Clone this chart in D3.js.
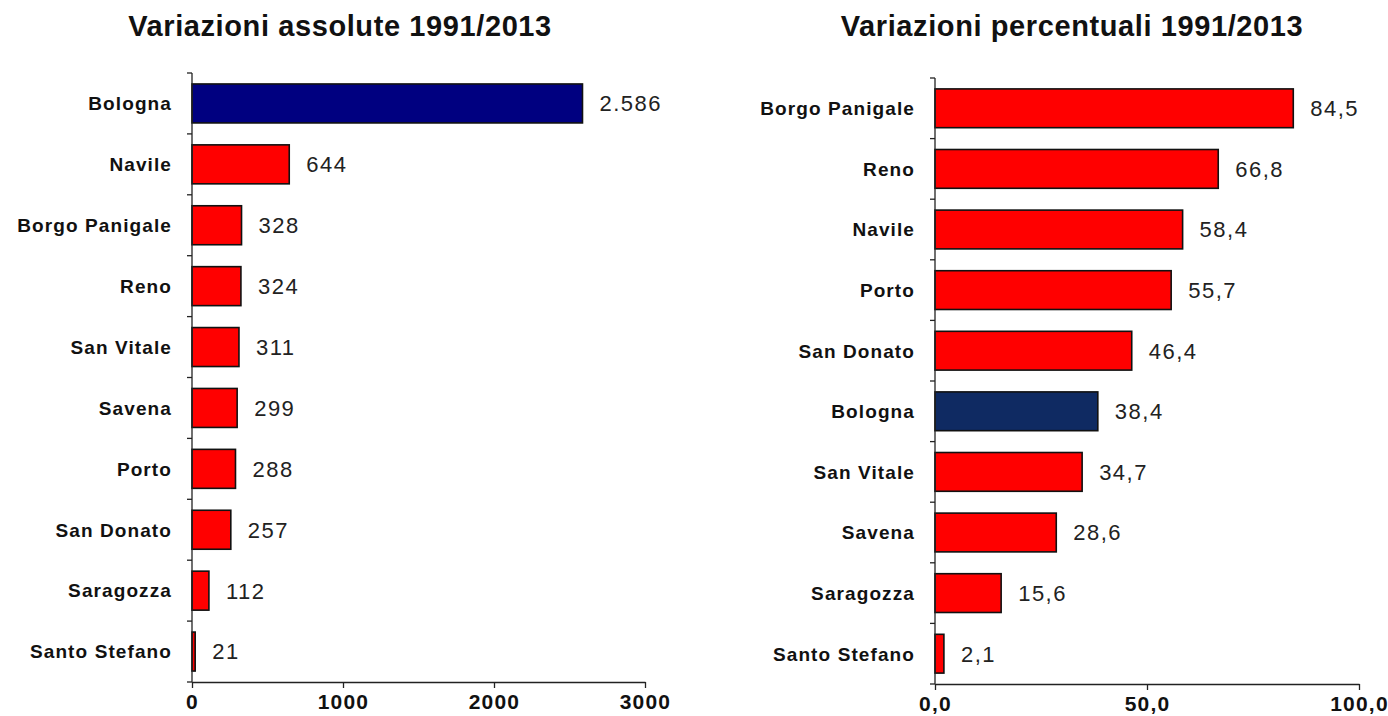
<!DOCTYPE html>
<html>
<head>
<meta charset="utf-8">
<script src="https://cdn.jsdelivr.net/npm/d3@7"></script>
<style>
  body { margin: 0; background: #fff; }
  svg { font-family: "Liberation Sans", Arial, sans-serif; }
  .title { font-size: 29px; font-weight: bold; fill: #111; letter-spacing: 0.6px; }
  .cat text { font-size: 19px; font-weight: bold; fill: #111; letter-spacing: 1.1px; }
  .xaxis text { font-size: 21px; font-weight: bold; fill: #111; letter-spacing: 1.2px; }
  .val { font-size: 22px; fill: #222; letter-spacing: 1.5px; }
  .domain, .tick line { stroke: #222; stroke-width: 1.3; }
  .bar { stroke: #111; stroke-width: 1.6; }
</style>
</head>
<body>
<script>
// Variazioni assolute 1991/2013
const absCategories = ["Bologna", "Navile", "Borgo Panigale", "Reno", "San Vitale",
                       "Savena", "Porto", "San Donato", "Saragozza", "Santo Stefano"];
const absValues = [2586, 644, 328, 324, 311, 299, 288, 257, 112, 21];
const absTicks = [0, 1000, 2000, 3000];

// Variazioni percentuali 1991/2013
const pctCategories = ["Borgo Panigale", "Reno", "Navile", "Porto", "San Donato",
                       "Bologna", "San Vitale", "Savena", "Saragozza", "Santo Stefano"];
const pctValues = [84.5, 66.8, 58.4, 55.7, 46.4, 38.4, 34.7, 28.6, 15.6, 2.1];
const pctTicks = [0, 50, 100];

const it = d3.formatLocale({decimal: ",", thousands: ".", grouping: [3], currency: ["€", ""]});

const svg = d3.select("body").append("svg")
  .attr("width", 1388)
  .attr("height", 716);

drawPanel({
  title: "Variazioni assolute 1991/2013",
  titleX: 340,
  cats: absCategories, vals: absValues, ticks: absTicks,
  domain: [0, 3000],
  left: 192, right: 645, top: 73, bottom: 682,
  blue: "#000080",
  tickFmt: d3.format("d"),
  valFmt: it.format(",d")
});

drawPanel({
  title: "Variazioni percentuali 1991/2013",
  titleX: 1072,
  cats: pctCategories, vals: pctValues, ticks: pctTicks,
  domain: [0, 100],
  left: 935, right: 1359, top: 78, bottom: 684,
  blue: "#0f2a62",
  tickFmt: it.format(".1f"),
  valFmt: it.format(".1f")
});

function drawPanel(o) {
  const x = d3.scaleLinear().domain(o.domain).range([o.left, o.right]);
  const y = d3.scaleBand().domain(o.cats).range([o.top, o.bottom])
    .paddingInner(0.36).paddingOuter(0.18);

  svg.append("text")
    .attr("class", "title")
    .attr("x", o.titleX)
    .attr("y", 36)
    .attr("text-anchor", "middle")
    .text(o.title);

  // bars
  const rows = o.cats.map((c, i) => ({cat: c, val: o.vals[i]}));
  svg.append("g").selectAll("rect")
    .data(rows)
    .enter().append("rect")
    .attr("class", "bar")
    .attr("x", x(0))
    .attr("y", d => y(d.cat))
    .attr("width", d => x(d.val) - x(0))
    .attr("height", y.bandwidth())
    .attr("fill", d => d.cat === "Bologna" ? o.blue : "#ff0000");

  // value labels
  svg.append("g").selectAll("text")
    .data(rows)
    .enter().append("text")
    .attr("class", "val")
    .attr("x", d => x(d.val) + 17)
    .attr("y", d => y(d.cat) + y.bandwidth() / 2)
    .attr("dy", "0.36em")
    .text(d => o.valFmt(d.val));

  // category axis with ticks between bands
  const yAxis = svg.append("g")
    .attr("class", "cat")
    .attr("transform", `translate(${o.left},0)`);
  yAxis.append("line")
    .attr("class", "domain")
    .attr("y1", o.top).attr("y2", o.bottom);
  const step = y.step();
  const bounds = o.cats.map(c => y(c) - y.paddingInner() * step / 2).concat([o.bottom]);
  yAxis.selectAll(".sep")
    .data(bounds)
    .enter().append("line")
    .attr("class", "domain")
    .attr("x1", -5).attr("x2", 0)
    .attr("y1", d => d).attr("y2", d => d);
  yAxis.selectAll(".lbl")
    .data(o.cats)
    .enter().append("text")
    .attr("x", -20)
    .attr("y", d => y(d) + y.bandwidth() / 2)
    .attr("dy", "0.36em")
    .attr("text-anchor", "end")
    .text(d => d);

  // value axis
  const xAxis = svg.append("g")
    .attr("class", "xaxis")
    .attr("transform", `translate(0,${o.bottom})`)
    .call(d3.axisBottom(x).tickValues(o.ticks).tickFormat(o.tickFmt).tickSize(6).tickSizeOuter(0));
  xAxis.selectAll("text").attr("y", 27).attr("dy", 0);
  xAxis.attr("font-family", null).attr("font-size", null);
}
</script>
</body>
</html>
